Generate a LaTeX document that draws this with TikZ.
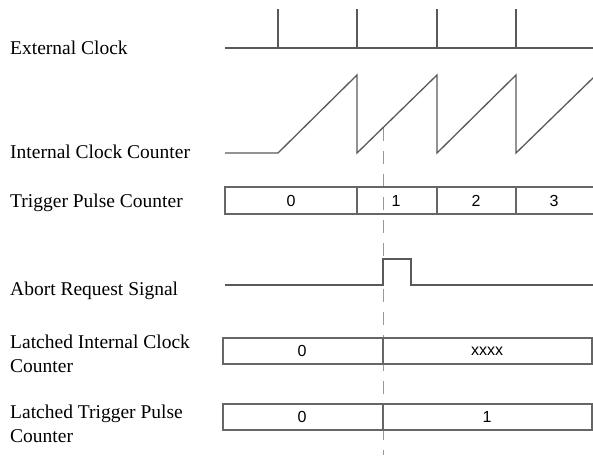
\documentclass[tikz,border=0pt]{standalone}
\usepackage{fontspec}
\setmainfont{Liberation Serif}
\newfontfamily\boxfont{Liberation Sans}
\begin{document}
\begin{tikzpicture}[x=1pt,y=-1pt,
  sig/.style={draw=black!65, line width=1.3pt, line join=miter},
  cell/.style={draw=black!60, line width=1.2pt},
  lbl/.style={anchor=base west, inner sep=0pt, font=\fontsize{19.5}{24}\selectfont, align=left},
  val/.style={inner sep=0pt, font=\boxfont\fontsize{16}{18}\selectfont},
  marker/.style={draw=black!40, line width=1pt, dash pattern=on 13pt off 10pt}]
\useasboundingbox (0,0) rectangle (593,455);
% left labels
\node[lbl] (lext) at (10,54) {External Clock};
\node[lbl] (lint) at (10,158) {Internal Clock Counter};
\node[lbl] (ltrig) at (10,207) {Trigger Pulse Counter};
\node[lbl] (labort) at (10,295) {Abort Request Signal};
\node[lbl] (llic) at (10,372) {Latched Internal Clock\\Counter};
\node[lbl] (lltp) at (10,442) {Latched Trigger Pulse\\Counter};
% marker dashed line
\coordinate (mtop) at (383,128);
\coordinate (mbot) at (383,455);
\draw[marker] (mtop) -- (mbot);
% external clock
\draw[sig] (225,48) -- (594,48);
\foreach \x in {278,357,437,516} \draw[sig] (\x,48) -- (\x,9);
% internal clock counter
\draw[sig] (225,153) -- (278,153) -- (357,75) -- (357,153) -- (437,75) -- (437,153) -- (516,75) -- (516,153) -- (594,77);
% trigger pulse counter
\draw[cell] (595,187) -- (225,187) -- (225,214) -- (595,214);
\foreach \x in {357,437,516} \draw[cell] (\x,187) -- (\x,214);
\node[val] (t0) at (291,201) {0};
\node[val] (t1) at (396,201) {1};
\node[val] (t2) at (476,201) {2};
\node[val] (t3) at (554,201) {3};
% abort request signal
\draw[sig] (225,285) -- (383,285) -- (383,259) -- (411,259) -- (411,285) -- (594,285);
% latched internal clock counter
\draw[cell] (223,338) rectangle (592,364);
\draw[cell] (383,338) -- (383,364);
\node[val] (a0) at (302,351) {0};
\node[val] (a1) at (487,351) {xxxx};
% latched trigger pulse counter
\draw[cell] (223,404) rectangle (592,430);
\draw[cell] (383,404) -- (383,430);
\node[val] (b0) at (302,417) {0};
\node[val] (b1) at (487,417) {1};
\end{tikzpicture}
\end{document}
